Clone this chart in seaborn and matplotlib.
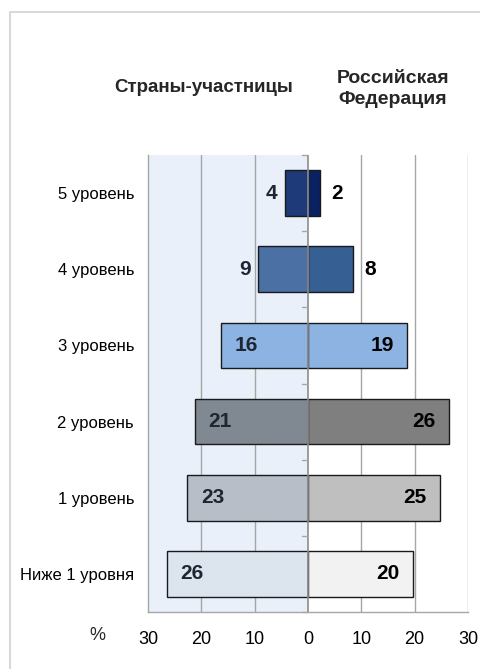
import numpy as np
import pandas as pd
import matplotlib.pyplot as plt
import matplotlib.lines as mlines
from matplotlib.ticker import FixedLocator, FuncFormatter
import seaborn as sns

# Data
levels = ["5 уровень", "4 уровень", "3 уровень", "2 уровень", "1 уровень", "Ниже 1 уровня"]
countries = [4.3, 9.4, 16.3, 21.2, 22.6, 26.4]   # Страны-участницы
russia = [2.3, 8.5, 18.6, 26.4, 24.7, 19.7]      # Российская Федерация
xticks = [-30, -20, -10, 0, 10, 20, 30]

left_colors = ["#1f3a78", "#4a70a4", "#8db3e2", "#808891", "#b7bec8", "#dce4ee"]
right_colors = ["#0b2262", "#365f94", "#8db3e2", "#7f7f7f", "#bfbfbf", "#f2f2f2"]

df = pd.DataFrame({"level": levels,
                   "left": [-v for v in countries],
                   "right": russia})

sns.set_style("white")
plt.rcParams["font.family"] = ["Liberation Sans", "DejaVu Sans"]

fig = plt.figure(figsize=(4.81, 6.69), dpi=100)
ax = fig.add_axes([148 / 481, 1 - 612 / 669, 320 / 481, 457 / 669])

# light blue half behind the left bars
ax.axvspan(-30, 0, color="#e9f0fa", zorder=0, lw=0)
for x in [-20, -10, 10, 20, 30]:
    ax.axvline(x, color="#a6a6a6", lw=1.0, zorder=0.5)

sns.barplot(data=df, x="left", y="level", hue="level", palette=left_colors,
            orient="h", width=0.6, saturation=1, edgecolor="#1a1a1a",
            linewidth=1.0, legend=False, ax=ax, zorder=2)
sns.barplot(data=df, x="right", y="level", hue="level", palette=right_colors,
            orient="h", width=0.6, saturation=1, edgecolor="#1a1a1a",
            linewidth=1.0, legend=False, ax=ax, zorder=2)

ax.axvline(0, color="#8c8c8c", lw=1.2, zorder=3)

# value labels
for i, (cl, rv) in enumerate(zip(countries, russia)):
    if cl < 10:
        ax.text(-cl - 1.4, i, f"{cl:.0f}", ha="right", va="center",
                fontsize=15, fontweight="bold", color="#1e2633", zorder=4)
    else:
        ax.text(-cl + 4.7, i, f"{cl:.0f}", ha="center", va="center",
                fontsize=15, fontweight="bold", color="#1e2633", zorder=4)
    if rv < 10:
        ax.text(rv + 2.0, i, f"{rv:.0f}", ha="left", va="center",
                fontsize=15, fontweight="bold", color="black", zorder=4)
    else:
        ax.text(rv - 4.7, i, f"{rv:.0f}", ha="center", va="center",
                fontsize=15, fontweight="bold", color="black", zorder=4)

ax.set_xlim(-30, 30)
ax.set_ylim(5.5, -0.5)
ax.xaxis.set_major_locator(FixedLocator(xticks))
ax.xaxis.set_major_formatter(FuncFormatter(lambda v, p: f"{abs(v):.0f}"))
ax.set_xlabel("")
ax.set_ylabel("")
ax.tick_params(axis="x", labelsize=13, length=6, width=1, color="#a6a6a6",
               direction="out", pad=8, labelcolor="black")
ax.tick_params(axis="y", labelsize=12, length=0, pad=10, labelcolor="black")

for side in ["top", "right"]:
    ax.spines[side].set_visible(False)
ax.spines["left"].set_color("#a6a6a6")
ax.spines["bottom"].set_color("#a6a6a6")
ax.spines["left"].set_linewidth(1)
ax.spines["bottom"].set_linewidth(1)

# small ticks on the zero line between categories
for b in np.arange(-0.5, 6.0, 1.0):
    ax.plot([-1.1, 0], [b, b], color="#a6a6a6", lw=1, zorder=3, clip_on=False)

# column titles
fig.text(204 / 481, 1 - 88 / 669, "Страны-участницы", ha="center", va="center",
         fontsize=13.5, fontweight="bold")
fig.text(393 / 481, 1 - 89 / 669, "Российская\nФедерация", ha="center",
         va="center", fontsize=14, fontweight="bold", linespacing=1.25)
fig.text(97 / 481, 1 - 636 / 669, "%", ha="center", va="center", fontsize=13)

# outer frame
fig.add_artist(mlines.Line2D([10 / 481, 10 / 481, 1], [0, 1 - 12 / 669, 1 - 12 / 669],
                             transform=fig.transFigure, color="#d9d9d9", lw=1.5))

plt.savefig("out.png", dpi=100)
